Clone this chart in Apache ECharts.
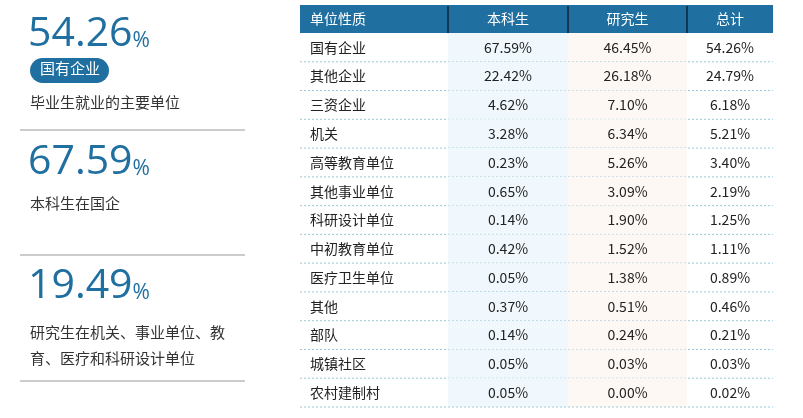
<!DOCTYPE html>
<html><head><meta charset="utf-8">
<script src="https://cdn.jsdelivr.net/npm/echarts@6/dist/echarts.min.js"></script>
<style>html,body{margin:0;padding:0;background:#fff}#c{width:803px;height:418px}</style>
</head><body><div id="c"></div>
<script>
const headers = ['单位性质','本科生','研究生','总计'];
const categories = ['国有企业','其他企业','三资企业','机关','高等教育单位','其他事业单位','科研设计单位','中初教育单位','医疗卫生单位','其他','部队','城镇社区','农村建制村'];
const undergrad = ['67.59%','22.42%','4.62%','3.28%','0.23%','0.65%','0.14%','0.42%','0.05%','0.37%','0.14%','0.05%','0.05%'];
const graduate = ['46.45%','26.18%','7.10%','6.34%','5.26%','3.09%','1.90%','1.52%','1.38%','0.51%','0.24%','0.03%','0.00%'];
const total = ['54.26%','24.79%','6.18%','5.21%','3.40%','2.19%','1.25%','1.11%','0.89%','0.46%','0.21%','0.03%','0.02%'];
const colEdges = [0,148,268,387,473];
const FONT = '"Noto Sans CJK SC","Noto Sans",sans-serif';
const blue = '#1f6fa0';

const chart = echarts.init(document.getElementById('c'));
function bigNum(n){return {text:'{a|'+n+'}{b|%}',rich:{a:{fontSize:41,fontFamily:'"Open Sans","Noto Sans",sans-serif',fill:blue,fontWeight:'normal'},b:{fontSize:21,fontFamily:'"Open Sans",sans-serif',fill:blue,padding:[14,0,0,0]}}};}
const graphic = [
  {type:'text',left:28,top:14,style:bigNum('54.26')},
  {type:'rect',left:30,top:58,shape:{width:79,height:25,r:12.5},style:{fill:blue}},
  {type:'text',left:40,top:61,style:{text:'国有企业',fontSize:15,fontFamily:FONT,fill:'#fff'}},
  {type:'text',left:30,top:95,style:{text:'毕业生就业的主要单位',fontSize:15,fontFamily:FONT,fill:'#333'}},
  {type:'line',shape:{x1:20,y1:130,x2:245,y2:130},style:{stroke:'#999',lineWidth:1}},
  {type:'text',left:28,top:142,style:bigNum('67.59')},
  {type:'text',left:30,top:196,style:{text:'本科生在国企',fontSize:15,fontFamily:FONT,fill:'#333'}},
  {type:'line',shape:{x1:20,y1:255,x2:245,y2:255},style:{stroke:'#999',lineWidth:1}},
  {type:'text',left:28,top:266,style:bigNum('19.49')},
  {type:'text',left:30,top:319,style:{text:'研究生在机关、事业单位、教\n育、医疗和科研设计单位',fontSize:15,lineHeight:26,fontFamily:FONT,fill:'#333'}},
  {type:'line',shape:{x1:20,y1:381,x2:245,y2:381},style:{stroke:'#999',lineWidth:1}},
  {type:'rect',left:300,top:5,shape:{width:473,height:28},style:{fill:blue}}
];
headers.forEach((h,i)=>{
  const x0=300+colEdges[i], x1=300+colEdges[i+1];
  graphic.push({type:'text',x:i===0?x0+10:(x0+x1)/2,y:19,style:{text:h,fontSize:14,fontFamily:FONT,fill:'#fff',align:i===0?'left':'center',verticalAlign:'middle'}});
  if(i>0) graphic.push({type:'line',shape:{x1:x0,y1:6,x2:x0,y2:33},style:{stroke:'#000',lineWidth:1}});
});

chart.setOption({
  animation:false,
  grid:{left:300,right:30,top:33,bottom:11},
  xAxis:{type:'value',min:0,max:473,show:false},
  yAxis:{type:'category',data:categories,inverse:true,show:false},
  graphic:graphic,
  series:[{
    type:'custom',
    data:categories.map((c,i)=>[i]),
    renderItem:function(params,api){
      const i=api.value(0);
      const h=api.size([0,1])[1];
      const p=k=>api.coord([colEdges[k],i]);
      const yc=p(0)[1], top=yc-h/2, bot=yc+h/2;
      const vals=[categories[i],undergrad[i],graduate[i],total[i]];
      const ch=[];
      ch.push({type:'rect',shape:{x:p(1)[0],y:top,width:p(2)[0]-p(1)[0],height:h},style:{fill:'#f0f8fd'}});
      ch.push({type:'rect',shape:{x:p(2)[0],y:top,width:p(3)[0]-p(2)[0],height:h},style:{fill:'#fdf8f4'}});
      vals.forEach((v,k)=>{
        ch.push({type:'text',x:k===0?p(0)[0]+10:(p(k)[0]+p(k+1)[0])/2,y:yc,style:{text:v,fontSize:14,fontFamily:FONT,fill:'#222',align:k===0?'left':'center',verticalAlign:'middle'}});
      });
      ch.push({type:'line',shape:{x1:p(0)[0],y1:bot,x2:p(4)[0],y2:bot},style:{stroke:'#9cc9dc',lineWidth:1,lineDash:[2,2]}});
      return {type:'group',children:ch};
    }
  }]
});
</script></body></html>
